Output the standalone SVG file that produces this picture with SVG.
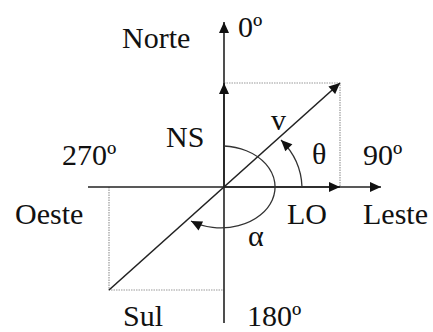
<svg xmlns="http://www.w3.org/2000/svg" width="433" height="332" viewBox="0 0 433 332">
<style>
text{font-family:"Liberation Serif","Times New Roman",serif;font-size:30px;fill:#111}
.ax{stroke:#222;stroke-width:1.6;fill:none}
.dot{stroke:#999;stroke-width:1.2;stroke-dasharray:1.5 1;fill:none}
.arc{stroke:#333;stroke-width:1.3;fill:none}
</style>
<defs>
<marker id="ah" viewBox="0 0 12 12" refX="12" refY="6" markerWidth="12" markerHeight="11" markerUnits="userSpaceOnUse" orient="auto">
<path d="M0,0.5 L12,6 L0,11.5 z" fill="#111"/>
</marker>
</defs>
<rect width="433" height="332" fill="#fff"/>
<g id="connectors">
<path class="dot" d="M224,83 H340 V187"/>
<path class="dot" d="M109,187 V290 H224"/>
<line class="ax" x1="224" y1="323" x2="224" y2="22" marker-end="url(#ah)"/>
<line class="ax" x1="224" y1="187" x2="224" y2="83" marker-end="url(#ah)"/>
<line class="ax" x1="88" y1="187" x2="381" y2="187" marker-end="url(#ah)"/>
<line class="ax" x1="224" y1="187" x2="340" y2="187" marker-end="url(#ah)"/>
<line class="ax" x1="109" y1="290" x2="340" y2="83" marker-end="url(#ah)"/>
<path class="arc" d="M302,187 A78,72 0 0 0 281,140" marker-end="url(#ah)"/>
<path class="arc" d="M224,146 A54,41 0 1 1 191,221" marker-end="url(#ah)"/>
</g>
<g id="norte"><text x="122" y="48">Norte</text></g>
<g id="deg0"><text x="238" y="37">0º</text></g>
<g id="ns"><text x="166" y="147">NS</text></g>
<g id="v"><text x="271" y="130">v</text></g>
<g id="deg270"><text x="62" y="165">270º</text></g>
<g id="theta"><text x="312" y="164">θ</text></g>
<g id="deg90"><text x="363" y="165">90º</text></g>
<g id="oeste"><text x="15" y="224">Oeste</text></g>
<g id="lo"><text x="287" y="224">LO</text></g>
<g id="leste"><text x="363" y="224">Leste</text></g>
<g id="alpha"><text x="248" y="246">α</text></g>
<g id="sul"><text x="123" y="326">Sul</text></g>
<g id="deg180"><text x="247" y="326">180º</text></g>
</svg>
